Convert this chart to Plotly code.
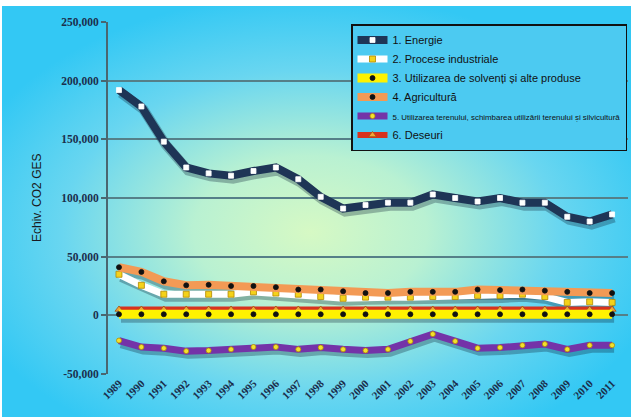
import base64
import plotly.graph_objects as go

# Romanian GHG emissions by sector, kt CO2 equivalent
years = list(range(1989, 2012))
year_labels = [str(y) for y in years]

energie = [192000, 178000, 148000, 126000, 121000, 119000, 123000, 126000, 116000, 101000,
           91000, 94000, 96000, 96000, 103000, 100000, 97000, 100000, 96000, 96000,
           84000, 80000, 86000]
procese = [35000, 25600, 18000, 18000, 18000, 18000, 20000, 19000, 18000, 16000,
           14500, 15500, 15500, 15500, 16000, 16000, 17000, 17000, 18000, 16000,
           11000, 11500, 11000]
solventi = [900] * 23
agricultura = [41000, 37000, 29000, 25600, 26000, 25000, 25000, 24000, 22000, 22000,
               20500, 19000, 19000, 20000, 20000, 20000, 22000, 21500, 22000, 21000,
               20000, 19000, 19000]
lulucf = [-21500, -27000, -28000, -30500, -30000, -29000, -27000, -27000, -29000, -27500,
          -29000, -30000, -29000, -22000, -16000, -22000, -28000, -27500, -25500, -24500,
          -29000, -25500, -25500]
deseuri = [5000] * 23

y_ticks = [-50000, 0, 50000, 100000, 150000, 200000, 250000]
y_ticktext = ["-50,000", "0", "50,000", "100,000", "150,000", "200,000", "250,000"]

W, H = 631, 417
ML, MR, MT, MB = 108, 1, 22, 40
PW, PH = W - ML - MR, H - MT - MB
SX, SY = 2, 3  # shadow offset in px


def px(x):
    return (x - ML) / PW


def py(y):
    return (H - MB - y) / PH


# soft radial background: pale green centre fading to sky blue
svg = (
    '<svg xmlns="http://www.w3.org/2000/svg" width="629" height="411" '
    'viewBox="0 0 629 411" preserveAspectRatio="none">'
    '<defs><radialGradient id="g" cx="0.49" cy="0.55" r="0.58">'
    '<stop offset="0" stop-color="#d6f9c4"/>'
    '<stop offset="0.32" stop-color="#b9f1d2"/>'
    '<stop offset="0.68" stop-color="#69d6f0"/>'
    '<stop offset="1" stop-color="#33c8f4"/>'
    '</radialGradient></defs>'
    '<rect width="629" height="411" fill="url(#g)"/></svg>'
)
bg_src = "data:image/svg+xml;base64," + base64.b64encode(svg.encode()).decode()

narrow = "font-family:Liberation Sans Narrow, Arial Narrow, sans-serif;font-size:7.9px"
series = [
    # name, values, line colour, width, marker symbol, marker colour, marker size, marker outline, legend rank
    ("6. Deseuri", deseuri, "#d8321e", 6, "triangle-up", "#f2a43a", 7, "#a05010", 6),
    ("2. Procese industriale", procese, "#ffffff", 7, "square", "#f4d21a", 6, "#b08800", 2),
    ("4. Agricultură", agricultura, "#f39a55", 8, "circle", "#111111", 5, "#111111", 4),
    ("3. Utilizarea de solvenți și alte produse", solventi, "#fff200", 9, "circle", "#111111", 5, "#111111", 3),
    (f"<span style='{narrow}'>5. Utilizarea terenului, schimbarea utilizării terenului și silvicultură</span>",
     lulucf, "#7433a8", 7, "circle", "#f4e030", 5, "#b09000", 5),
    ("1. Energie", energie, "#1e3556", 8, "square", "#ffffff", 5, "#ffffff", 1),
]

fig = go.Figure()

# empty trace so the main (gridded, labelled) axes are drawn
fig.add_trace(go.Scatter(x=[], y=[], xaxis="x", yaxis="y", mode="lines",
                         showlegend=False, hoverinfo="skip"))

# soft drop shadows on a pixel-shifted copy of the axes (x2/y2)
for name, vals, lc, lw, sym, mc, ms, mo, rank in series:
    fig.add_trace(go.Scatter(
        x=years, y=vals, mode="lines", xaxis="x2", yaxis="y2",
        line=dict(color="rgba(10,30,50,0.3)", width=lw + 2),
        showlegend=False, hoverinfo="skip"))

# the series themselves on an overlay (x3/y3) stacked above the shadows
for name, vals, lc, lw, sym, mc, ms, mo, rank in series:
    fig.add_trace(go.Scatter(
        x=years, y=vals, mode="lines+markers", name=name, legendrank=rank,
        xaxis="x3", yaxis="y3",
        line=dict(color=lc, width=lw),
        marker=dict(symbol=sym, color=mc, size=ms, line=dict(color=mo, width=0.8))))

yrange = [-50000, 250000]
xrange = [1988.51, 2011.71]
x_dom = [0, px(628)]
y_dom = [py(374), 1]

fig.update_layout(
    width=W, height=H,
    margin=dict(l=ML, r=MR, t=MT, b=MB, autoexpand=False),
    paper_bgcolor="#ffffff",
    plot_bgcolor="rgba(0,0,0,0)",
    images=[dict(source=bg_src, xref="paper", yref="paper",
                 x=px(2), y=py(6), sizex=(W - 2) / PW, sizey=(H - 6) / PH,
                 sizing="stretch", layer="below", xanchor="left", yanchor="top")],
    xaxis=dict(range=xrange, tickvals=years, ticktext=year_labels, tickangle=-45,
               showgrid=False, zeroline=False, showline=False, ticks="",
               automargin=False,
               tickfont=dict(family="Liberation Serif", size=11, color="#1b2e4c", weight="bold"),
               domain=x_dom, anchor="y"),
    yaxis=dict(range=yrange, tickvals=y_ticks, ticktext=y_ticktext,
               showgrid=True, gridcolor="#557f88", gridwidth=1.5,
               zeroline=False, showline=True, linecolor="#4a6670", linewidth=2,
               ticks="outside", ticklen=5, tickcolor="#4a6670", tickwidth=1.5,
               automargin=False,
               tickfont=dict(family="Liberation Serif", size=11.5, color="#1b2e4c", weight="bold"),
               domain=y_dom, anchor="x"),
    xaxis2=dict(range=xrange, domain=[x_dom[0] + SX / PW, x_dom[1] + SX / PW],
                anchor="y2", visible=False, automargin=False),
    yaxis2=dict(range=yrange, domain=[y_dom[0] - SY / PH, y_dom[1] - SY / PH],
                anchor="x2", visible=False, automargin=False),
    xaxis3=dict(range=xrange, domain=x_dom, anchor="y3", visible=False, automargin=False),
    yaxis3=dict(range=yrange, domain=y_dom, anchor="x3", visible=False, automargin=False),
    legend=dict(x=px(627), y=py(24), xanchor="right", yanchor="top",
                bgcolor="#4ccaf1", bordercolor="#111111", borderwidth=1.5,
                font=dict(family="Arial, Liberation Sans", size=11, color="#111111"),
                itemwidth=30, tracegroupgap=0),
    annotations=[dict(text="Echiv. CO2 GES", textangle=-90, xref="paper", yref="paper",
                      x=px(28), y=py(198), showarrow=False,
                      font=dict(family="Arial, Liberation Sans", size=12, color="#1a1a22"))],
    showlegend=True,
)

fig.write_html("out.html")
